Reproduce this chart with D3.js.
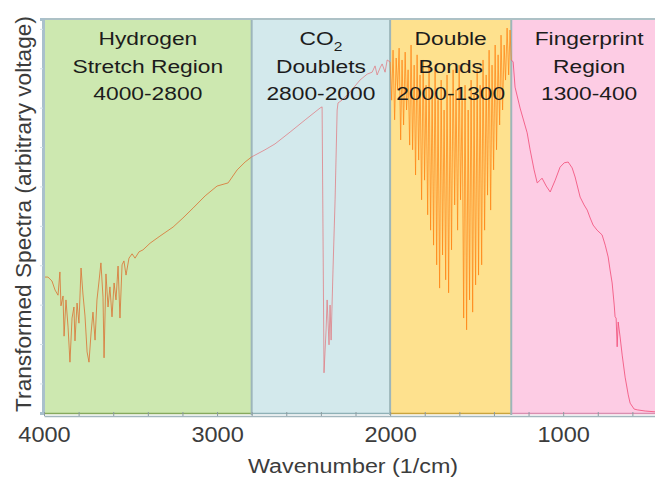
<!DOCTYPE html>
<html lang="en">
<head>
    <meta charset="UTF-8">
    <title>IR Spectrum Regions</title>
    <script src="https://d3js.org/d3.v7.min.js"></script>
    <style>
        body { margin: 0; background: #fff; }
        text { font-family: "Liberation Sans", Arial, sans-serif; }
        .region-label { font-size: 19px; fill: #1c1c1c; text-anchor: middle; }
        .tick-label text { font-size: 22px; fill: #3c3c3c; }
        .axis-title { font-size: 21px; fill: #3c3c3c; text-anchor: middle; }
        .spectrum { fill: none; stroke-width: 1; stroke-linejoin: round; }
    </style>
</head>
<body>
<div id="chart-container"></div>
<script>
// Region bounds (wavenumber, 1/cm) and their three-line titles
const regionBounds = [[4000, 2800], [2800, 2000], [2000, 1300], [1300, 400]];
const regionTitles = [
    ['Hydrogen', 'Stretch Region', '4000-2800'],
    ['CO2', 'Doublets', '2800-2000'],
    ['Double', 'Bonds', '2000-1300'],
    ['Fingerprint', 'Region', '1300-400']
];
const xTickValues = [4000, 3000, 2000, 1000];

// Spectrum, one piece per region: [wavenumber, signal]
const hydrogenSpectrum = [
    [4000, 34.5], [3977, 34.5], [3954, 33.5], [3936, 31.2], [3919, 29.9], [3908, 35.8], [3902, 27.2],
    [3890, 29.7], [3884, 19.5], [3873, 28.7], [3861, 21.8], [3850, 12.9], [3838, 24.1], [3827, 26.9],
    [3821, 18.3], [3809, 27.9], [3798, 22.8], [3786, 36.8], [3775, 30.2], [3763, 24.6], [3751, 15.5],
    [3740, 12.9], [3728, 20.3], [3717, 25.6], [3705, 18.5], [3694, 28.7], [3682, 33.5], [3671, 38.1],
    [3659, 29.4], [3653, 14.0], [3642, 35.3], [3630, 26.9], [3619, 32.0], [3607, 24.4], [3595, 33.0],
    [3584, 28.7], [3572, 37.3], [3561, 24.1], [3549, 37.6], [3538, 38.6], [3526, 35.0], [3509, 39.3],
    [3491, 40.4], [3474, 39.3], [3451, 40.9], [3428, 41.4], [3387, 43.1], [3330, 44.9], [3254, 47.2],
    [3197, 49.5], [3139, 52.0], [3069, 55.1], [3000, 57.6], [2936, 58.4], [2884, 61.7], [2838, 63.7],
    [2800, 65.0]
];
const co2Spectrum = [
    [2800, 65.0], [2723, 66.8], [2665, 68.3], [2578, 71.3], [2491, 74.4], [2405, 77.4], [2393, 77.7],
    [2387, 41.4], [2382, 10.2], [2370, 21.1], [2364, 28.7], [2353, 17.3], [2347, 27.4], [2341, 18.5],
    [2330, 36.3], [2318, 54.1], [2306, 76.9], [2301, 78.7], [2278, 79.4], [2231, 81.5], [2174, 84.5],
    [2133, 86.0], [2104, 86.5], [2087, 88.1], [2075, 85.8], [2058, 87.6], [2046, 88.6], [2029, 86.5],
    [2017, 89.6], [2000, 89.1]
];
const doubleBondSpectrum = [
    [2000, 89.1], [1991, 79.4], [1983, 92.1], [1974, 74.4], [1965, 90.1], [1957, 82.0], [1948, 92.6],
    [1939, 69.3], [1931, 89.6], [1922, 73.1], [1913, 91.6], [1905, 76.9], [1896, 87.1], [1887, 68.0],
    [1879, 93.4], [1870, 66.8], [1861, 88.3], [1853, 60.4], [1844, 90.9], [1835, 64.2], [1827, 85.8],
    [1818, 54.1], [1809, 89.6], [1801, 59.1], [1792, 83.2], [1783, 50.3], [1775, 88.3], [1766, 46.4],
    [1757, 82.0], [1749, 42.6], [1740, 87.1], [1731, 37.6], [1723, 79.4], [1714, 31.7], [1705, 84.5],
    [1697, 40.1], [1688, 76.9], [1679, 33.8], [1671, 85.8], [1662, 30.5], [1653, 80.7], [1645, 41.4],
    [1636, 87.1], [1627, 52.8], [1619, 82.0], [1610, 46.4], [1601, 88.3], [1593, 54.1], [1584, 79.4],
    [1575, 24.1], [1567, 83.2], [1558, 21.1], [1549, 76.9], [1541, 28.7], [1532, 84.5], [1523, 25.6],
    [1515, 80.7], [1506, 32.5], [1497, 87.1], [1489, 35.0], [1480, 83.2], [1471, 37.6], [1463, 89.6],
    [1454, 46.4], [1445, 85.8], [1437, 55.3], [1428, 92.1], [1419, 51.5], [1411, 88.3], [1402, 61.7],
    [1393, 93.4], [1385, 66.8], [1376, 90.9], [1367, 73.1], [1359, 95.9], [1350, 76.9], [1341, 93.4],
    [1333, 84.5], [1324, 97.7], [1315, 85.8], [1307, 97.2], [1300, 89.6]
];
const fingerprintSpectrum = [
    [1300, 89.6], [1289, 89.1], [1278, 82.7], [1249, 77.4], [1208, 71.1], [1191, 66.8], [1168, 61.7],
    [1150, 58.4], [1133, 59.1], [1122, 59.6], [1098, 57.6], [1075, 56.1], [1046, 59.1], [1018, 62.4],
    [994, 63.5], [971, 63.7], [948, 62.2], [931, 59.9], [902, 54.8], [879, 52.8], [861, 51.5],
    [844, 49.5], [827, 47.7], [804, 46.4], [775, 45.2], [757, 42.6], [740, 39.6], [729, 36.3],
    [717, 33.0], [705, 27.4], [700, 24.4], [694, 24.1], [688, 16.8], [682, 23.1], [671, 19.3],
    [659, 14.7], [642, 9.1], [624, 4.6], [613, 2.5], [590, 1.0], [572, 0.8], [526, 0.5],
    [468, 0.3], [400, 0.3]
];

// Styles per region: background, darker bottom strip, spectrum colour and opacity
const regionFills = ['#cde8b0', '#d3e9ec', '#fee18e', '#fdcce4'];
const regionBaseColors = ['#86a95e', '#8fb1b6', '#c9a43e', '#d98fb1'];
const spectrumColors = ['#d9783a', '#e07a80', '#ff8414', '#f2527c'];
const spectrumOpacity = [0.85, 0.75, 0.72, 0.85];

const width = 655, height = 477;
const plot = { left: 44, right: 667, top: 19, bottom: 413 };

const svg = d3.select('#chart-container')
    .append('svg')
    .attr('width', width)
    .attr('height', height);

const xScale = d3.scaleLinear().domain([4000, 400]).range([plot.left, plot.right]);
const yScale = d3.scaleLinear().domain([0, 100]).range([plot.bottom, plot.top]);

const regions = regionBounds.map((b, i) => ({
    from: b[0], to: b[1], lines: regionTitles[i],
    fill: regionFills[i], base: regionBaseColors[i]
}));

// Coloured region backgrounds
svg.selectAll('.region')
    .data(regions)
    .enter()
    .append('rect')
    .attr('class', 'region')
    .attr('x', d => xScale(d.from))
    .attr('y', yScale(100))
    .attr('width', d => xScale(d.to) - xScale(d.from))
    .attr('height', yScale(0) - yScale(100))
    .attr('fill', d => d.fill);

// Darker strip along the bottom of each region
svg.selectAll('.region-base')
    .data(regions)
    .enter()
    .append('line')
    .attr('x1', d => xScale(d.from))
    .attr('x2', d => xScale(d.to))
    .attr('y1', yScale(0) + 0.5)
    .attr('y2', yScale(0) + 0.5)
    .attr('stroke', d => d.base)
    .attr('stroke-width', 1.6);

// Region separators and top frame
svg.selectAll('.separator')
    .data(regionBounds.slice(1).map(b => b[0]))
    .enter()
    .append('line')
    .attr('x1', d => xScale(d))
    .attr('x2', d => xScale(d))
    .attr('y1', yScale(100))
    .attr('y2', yScale(0) + 2)
    .attr('stroke', '#9db6ba')
    .attr('stroke-width', 2);

svg.append('line')
    .attr('x1', plot.left).attr('x2', width)
    .attr('y1', yScale(100)).attr('y2', yScale(100))
    .attr('stroke', '#adc1c6').attr('stroke-width', 2);

// Spectrum pieces
const line = d3.line().x(d => xScale(d[0])).y(d => yScale(d[1]));
[hydrogenSpectrum, co2Spectrum, doubleBondSpectrum, fingerprintSpectrum].forEach((s, i) => {
    svg.append('path')
        .datum(s)
        .attr('class', 'spectrum')
        .attr('d', line)
        .attr('stroke', spectrumColors[i])
        .attr('stroke-opacity', spectrumOpacity[i]);
});

// Region titles
regions.forEach(r => {
    const cx = (xScale(r.from) + xScale(r.to)) / 2;
    r.lines.forEach((txt, i) => {
        const t = svg.append('text')
            .attr('class', 'region-label')
            .attr('transform', `translate(${cx},${45 + i * 27.5}) scale(1.2,1)`);
        if (txt === 'CO2') {
            t.append('tspan').text('CO');
            t.append('tspan').attr('font-size', '13px').attr('dy', 6).text('2');
        } else {
            t.text(txt);
        }
    });
});

// Y axis: faint ticks, no labels
const yAxis = svg.append('g')
    .attr('transform', `translate(${plot.left - 1},0)`)
    .call(d3.axisLeft(yScale).tickValues([7.5, 17.5, 27.5, 37.5, 47.5, 57.5, 67.5, 77.5, 87.5, 97.5])
        .tickSize(3).tickFormat(''));
yAxis.select('.domain').attr('stroke', '#a9c0cc').attr('stroke-width', 3);
yAxis.selectAll('.tick line').attr('stroke', '#d2e0e8');

// X axis: minor ticks every 200, labels every 1000
const xMinor = svg.append('g')
    .attr('transform', `translate(0,${plot.bottom + 3})`)
    .call(d3.axisBottom(xScale).tickValues(d3.range(400, 4001, 200)).tickSize(-4).tickSizeOuter(0).tickFormat(''));
xMinor.select('.domain').attr('stroke', '#a3b6bd').attr('stroke-width', 1.5);
xMinor.selectAll('.tick line').attr('stroke', '#8c9ca2');

const xLabels = svg.append('g')
    .attr('class', 'tick-label')
    .attr('transform', `translate(0,${plot.bottom + 3})`)
    .call(d3.axisBottom(xScale).tickValues(xTickValues).tickSize(0).tickPadding(8).tickFormat(d3.format('d')));
xLabels.select('.domain').remove();
xLabels.selectAll('text')
    .attr('font-family', null)
    .attr('dy', null)
    .attr('y', 26)
    .attr('transform', 'scale(1.07,1)');

// Axis titles
svg.append('text')
    .attr('class', 'axis-title')
    .attr('transform', 'translate(353,473) scale(1.11,1)')
    .text('Wavenumber (1/cm)');

svg.append('text')
    .attr('class', 'axis-title')
    .style('font-size', '22px')
    .attr('transform', 'translate(30.5,214) rotate(-90) scale(1.03,1)')
    .text('Transformed Spectra (arbitrary voltage)');
</script>
</body>
</html>
